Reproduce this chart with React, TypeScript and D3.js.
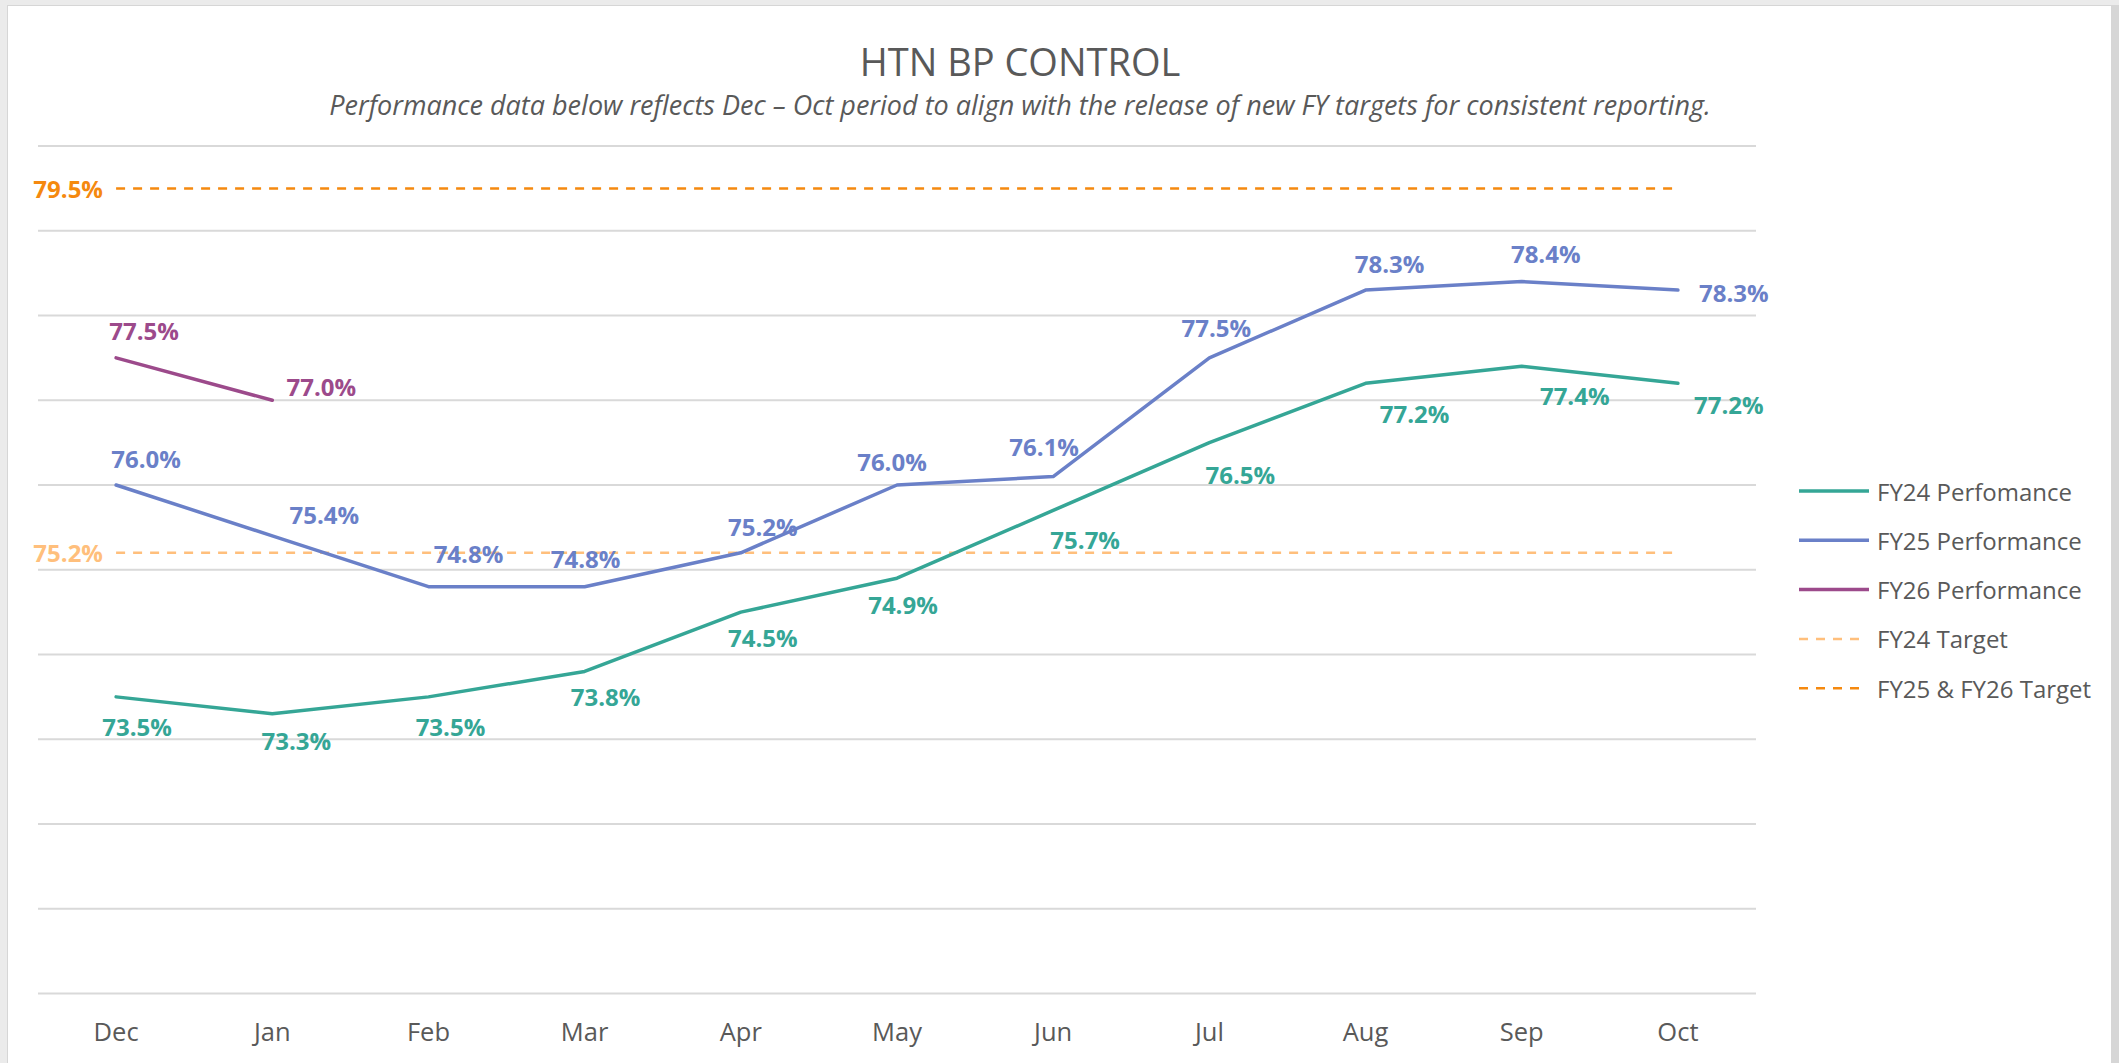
import { useEffect, useRef } from "react";
import * as d3 from "d3";

const months = ["Dec", "Jan", "Feb", "Mar", "Apr", "May", "Jun", "Jul", "Aug", "Sep", "Oct"];
const fy24Perf = [73.5, 73.3, 73.5, 73.8, 74.5, 74.9, 75.7, 76.5, 77.2, 77.4, 77.2];
const fy25Perf = [76.0, 75.4, 74.8, 74.8, 75.2, 76.0, 76.1, 77.5, 78.3, 78.4, 78.3];
const fy26Perf = [77.5, 77.0];
const fy24Target = 75.2;
const fy2526Target = 79.5;
const yTicks = [70, 71, 72, 73, 74, 75, 76, 77, 78, 79, 80];

// label nudges (dx, dy) from the point, like hand-placed Excel data labels
const fy24LabelOffsets = [[21, 30], [24, 27], [22, 30], [21, 25], [22, 25], [6, 26], [32, 29], [31, 32], [49, 30], [53, 29], [51, 21]];
const fy25LabelOffsets = [[30, -27], [52, -21], [40, -33], [1, -28], [22, -26], [-5, -24], [-9, -30], [7, -30], [24, -27], [24, -28], [56, 2]];
const fy26LabelOffsets = [[28, -27], [49, -14]];

const WIDTH = 2119;
const HEIGHT = 1063;
const FONT = "'Open Sans', 'Noto Sans', sans-serif";
const TEXT = "#595959";

const series = [
  { name: "FY24 Perfomance", values: fy24Perf, color: "#35a696", offsets: fy24LabelOffsets },
  { name: "FY25 Performance", values: fy25Perf, color: "#6a80c8", offsets: fy25LabelOffsets },
  { name: "FY26 Performance", values: fy26Perf, color: "#9c4a8b", offsets: fy26LabelOffsets },
];

const targets = [
  { name: "FY24 Target", value: fy24Target, color: "#ffbf7c" },
  { name: "FY25 & FY26 Target", value: fy2526Target, color: "#f5890f" },
];

const HtnChart = () => {
  const svgRef = useRef<SVGSVGElement>(null);

  useEffect(() => {
    const svg = d3.select(svgRef.current);
    svg.selectAll("*").remove();

    // panel frame
    svg.append("rect").attr("width", WIDTH).attr("height", HEIGHT).attr("fill", "#ebebeb");
    svg.append("rect").attr("x", 7).attr("y", 5).attr("width", WIDTH - 7).attr("height", HEIGHT - 5).attr("fill", "#d6d6d6");
    svg.append("rect").attr("x", 8).attr("y", 6).attr("width", WIDTH - 16).attr("height", HEIGHT - 6).attr("fill", "#ffffff");

    const x = d3.scaleBand().domain(months).range([38, 1756]);
    const y = d3.scaleLinear().domain([70, 80]).range([993.5, 146]);
    const cx = (i: number) => (x(months[i]) ?? 0) + x.bandwidth() / 2;

    // title
    svg.append("text")
      .attr("x", 1020).attr("y", 61)
      .attr("text-anchor", "middle").attr("dominant-baseline", "central")
      .attr("font-family", FONT).attr("font-size", 38).attr("fill", TEXT)
      .text("HTN BP CONTROL");
    svg.append("text")
      .attr("x", 1020).attr("y", 104)
      .attr("text-anchor", "middle").attr("dominant-baseline", "central")
      .attr("font-family", FONT).attr("font-size", 27).attr("font-style", "italic").attr("fill", TEXT)
      .text("Performance data below reflects Dec \u2013 Oct period to align with the release of new FY targets for consistent reporting.");

    // grid
    svg.append("g").selectAll("line").data(yTicks).enter().append("line")
      .attr("x1", 38).attr("x2", 1756)
      .attr("y1", (d) => y(d)).attr("y2", (d) => y(d))
      .attr("stroke", "#d9d9d9").attr("stroke-width", 2);

    // x axis labels
    svg.append("g").selectAll("text").data(months).enter().append("text")
      .attr("x", (_d, i) => cx(i)).attr("y", 1031)
      .attr("text-anchor", "middle").attr("dominant-baseline", "central")
      .attr("font-family", FONT).attr("font-size", 25.5).attr("fill", TEXT)
      .text((d) => d);

    // target lines
    targets.forEach((t) => {
      svg.append("line")
        .attr("x1", cx(0)).attr("x2", cx(months.length - 1))
        .attr("y1", y(t.value)).attr("y2", y(t.value))
        .attr("stroke", t.color).attr("stroke-width", 2.5)
        .attr("stroke-dasharray", "9 8");
      svg.append("text")
        .attr("x", 103).attr("y", y(t.value))
        .attr("text-anchor", "end").attr("dominant-baseline", "central")
        .attr("font-family", FONT).attr("font-size", 24).attr("font-weight", 700)
        .attr("fill", t.color)
        .text(`${t.value.toFixed(1)}%`);
    });

    // performance lines
    const line = d3.line<number>().x((_d, i) => cx(i)).y((d) => y(d));
    series.forEach((s) => {
      svg.append("path")
        .datum(s.values)
        .attr("d", line)
        .attr("fill", "none")
        .attr("stroke", s.color)
        .attr("stroke-width", 3.5)
        .attr("stroke-linejoin", "round")
        .attr("stroke-linecap", "round");
    });

    series.forEach((s) => {
      svg.append("g").selectAll("text").data(s.values).enter().append("text")
        .attr("x", (_d, i) => cx(i) + s.offsets[i][0])
        .attr("y", (d, i) => y(d) + s.offsets[i][1])
        .attr("text-anchor", "middle").attr("dominant-baseline", "central")
        .attr("font-family", FONT).attr("font-size", 24).attr("font-weight", 700)
        .attr("fill", s.color)
        .text((d) => `${d.toFixed(1)}%`);
    });

    // legend
    const legendItems = [
      ...series.map((s) => ({ name: s.name, color: s.color, dashed: false })),
      ...targets.map((t) => ({ name: t.name, color: t.color, dashed: true })),
    ];
    const legend = svg.append("g").selectAll("g").data(legendItems).enter().append("g")
      .attr("transform", (_d, i) => `translate(1799,${491 + i * 49.3})`);
    legend.append("line")
      .attr("x1", 0).attr("x2", (d) => (d.dashed ? 66 : 70))
      .attr("stroke", (d) => d.color)
      .attr("stroke-width", (d) => (d.dashed ? 2.5 : 3.5))
      .attr("stroke-dasharray", (d) => (d.dashed ? "9 8" : null));
    legend.append("text")
      .attr("x", 78).attr("y", 0)
      .attr("dominant-baseline", "central")
      .attr("font-family", FONT).attr("font-size", 24).attr("fill", TEXT)
      .text((d) => d.name);
  }, []);

  return (
    <svg
      ref={svgRef}
      width={WIDTH}
      height={HEIGHT}
      style={{ position: "absolute", left: 0, top: 0 }}
    />
  );
};

export default function App() {
  return <HtnChart />;
}
